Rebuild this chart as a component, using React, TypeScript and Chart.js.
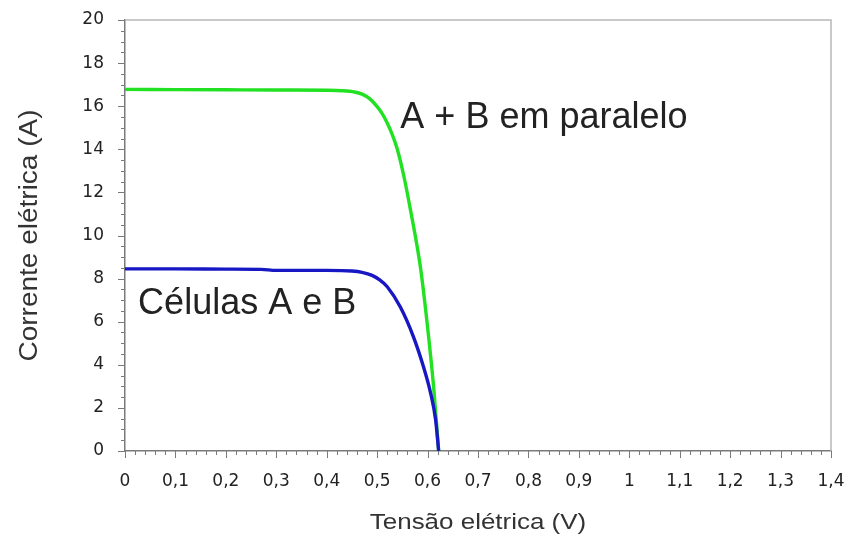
import { useEffect, useRef } from "react";
import { Chart, registerables } from "chart.js";

Chart.register(...registerables);

// I–V curve of the two cells connected in parallel (A + B)
const voltageParallel = [0, 0.1, 0.2, 0.3, 0.4, 0.43, 0.455, 0.47, 0.485, 0.5, 0.51, 0.52, 0.53, 0.54, 0.553, 0.566, 0.586, 0.6, 0.612, 0.622];
const currentParallel = [16.78, 16.77, 16.76, 16.75, 16.74, 16.72, 16.66, 16.56, 16.35, 15.98, 15.66, 15.22, 14.68, 14.0, 12.75, 11.2, 8.5, 5.75, 2.97, 0];

// I–V curve of a single cell (A and B are identical)
const voltageSingle = [0, 0.1, 0.2, 0.27, 0.3, 0.4, 0.45, 0.47, 0.49, 0.505, 0.52, 0.546, 0.572, 0.592, 0.606, 0.616, 0.622];
const currentSingle = [8.45, 8.45, 8.44, 8.43, 8.38, 8.38, 8.35, 8.29, 8.15, 7.94, 7.62, 6.68, 5.3, 3.9, 2.69, 1.44, 0];

const seriesNames = ["A + B em paralelo", "Células A e B"];

const xTickLabels = ["0", "0,1", "0,2", "0,3", "0,4", "0,5", "0,6", "0,7", "0,8", "0,9", "1", "1,1", "1,2", "1,3", "1,4"];
const yTickLabels = ["0", "2", "4", "6", "8", "10", "12", "14", "16", "18", "20"];

const xTitle = "Tensão elétrica (V)";
const yTitle = "Corrente elétrica (A)";

const toPoints = (xs: number[], ys: number[]) => xs.map((x, i) => ({ x, y: ys[i] }));

// Frame, minor/major tick marks, axis titles and in-plot curve labels
const decorations = {
  id: "decorations",
  beforeDatasetsDraw(chart: any) {
    const { ctx, chartArea: a, scales } = chart;
    const xs = scales.x;
    const ys = scales.y;
    ctx.save();
    ctx.strokeStyle = "#b8b8b8";
    ctx.lineWidth = 1.5;
    ctx.beginPath();
    ctx.moveTo(a.left, a.top);
    ctx.lineTo(a.right, a.top);
    ctx.lineTo(a.right, a.bottom);
    ctx.stroke();

    ctx.strokeStyle = "#7a7a7a";
    ctx.lineWidth = 1;
    ctx.beginPath();
    for (let i = 0; i <= 70; i++) {
      const px = Math.round(xs.getPixelForValue(i * 0.02)) + 0.5;
      const len = i % 5 === 0 ? 7 : 4;
      ctx.moveTo(px, a.bottom);
      ctx.lineTo(px, a.bottom + len);
    }
    for (let i = 0; i <= 40; i++) {
      const py = Math.round(ys.getPixelForValue(i * 0.5)) + 0.5;
      const len = i % 4 === 0 ? 7 : 4;
      ctx.moveTo(a.left - len, py);
      ctx.lineTo(a.left, py);
    }
    ctx.stroke();
    ctx.restore();
  },
  afterDraw(chart: any) {
    const { ctx, chartArea: a, scales } = chart;
    const xs = scales.x;
    const ys = scales.y;
    ctx.save();
    ctx.fillStyle = "#333333";
    ctx.textAlign = "center";
    ctx.textBaseline = "middle";

    // x axis title
    ctx.save();
    ctx.font = "22px 'Liberation Sans', Arial, sans-serif";
    ctx.translate((a.left + a.right) / 2, 523);
    ctx.scale(1.18, 1);
    ctx.fillText(xTitle, 0, 0);
    ctx.restore();

    // y axis title
    ctx.save();
    ctx.font = "25px 'Liberation Sans', Arial, sans-serif";
    ctx.translate(30, (a.top + a.bottom) / 2);
    ctx.rotate(-Math.PI / 2);
    ctx.scale(1.12, 1);
    ctx.fillText(yTitle, 0, 0);
    ctx.restore();

    // curve labels
    ctx.fillStyle = "#222222";
    ctx.textAlign = "left";
    ctx.font = "36px 'Liberation Sans', Arial, sans-serif";
    ctx.fillText(seriesNames[0], xs.getPixelForValue(0.546), ys.getPixelForValue(15.45));
    ctx.fillText(seriesNames[1], xs.getPixelForValue(0.026), ys.getPixelForValue(6.8));
    ctx.restore();
  },
};

export default function App() {
  const canvasRef = useRef<HTMLCanvasElement | null>(null);

  useEffect(() => {
    const canvas = canvasRef.current;
    if (!canvas) return;
    const tickFont = { family: "'DejaVu Sans', sans-serif", size: 17 };
    const chart = new Chart(canvas, {
      type: "scatter",
      data: {
        datasets: [
          {
            label: seriesNames[1],
            data: toPoints(voltageSingle, currentSingle),
            showLine: true,
            borderColor: "#1717c4",
            borderWidth: 3.4,
            pointRadius: 0,
            cubicInterpolationMode: "monotone",
          },
          {
            label: seriesNames[0],
            data: toPoints(voltageParallel, currentParallel),
            showLine: true,
            borderColor: "#22e022",
            borderWidth: 3.4,
            pointRadius: 0,
            cubicInterpolationMode: "monotone",
          },
        ],
      },
      options: {
        animation: false,
        responsive: false,
        layout: { padding: { top: 20, right: 17, left: 0, bottom: 0 } },
        plugins: { legend: { display: false }, tooltip: { enabled: false } },
        scales: {
          x: {
            type: "linear",
            min: 0,
            max: 1.4,
            // tick marks are drawn by the plugin; tickLength only offsets the labels
            grid: { display: false, tickLength: 19 },
            border: { display: true, color: "#7a7a7a", width: 1.5 },
            ticks: {
              stepSize: 0.1,
              autoSkip: false,
              maxRotation: 0,
              padding: 1,
              color: "#222222",
              font: tickFont,
              callback: (_v: any, i: number) => xTickLabels[i],
            },
            afterFit: (s: any) => {
              s.height = 89;
            },
          },
          y: {
            type: "linear",
            min: 0,
            max: 20,
            grid: { display: false, tickLength: 20 },
            border: { display: true, color: "#7a7a7a", width: 1.5 },
            ticks: {
              stepSize: 2,
              autoSkip: false,
              padding: 1,
              color: "#222222",
              font: tickFont,
              callback: (_v: any, i: number) => yTickLabels[i],
            },
            afterFit: (s: any) => {
              s.width = 125;
            },
          },
        },
      },
      plugins: [decorations],
    });
    return () => chart.destroy();
  }, []);

  return (
    <div style={{ position: "absolute", left: 0, top: 0, width: 848, height: 540, background: "#ffffff" }}>
      <canvas ref={canvasRef} width={848} height={540} />
    </div>
  );
}
